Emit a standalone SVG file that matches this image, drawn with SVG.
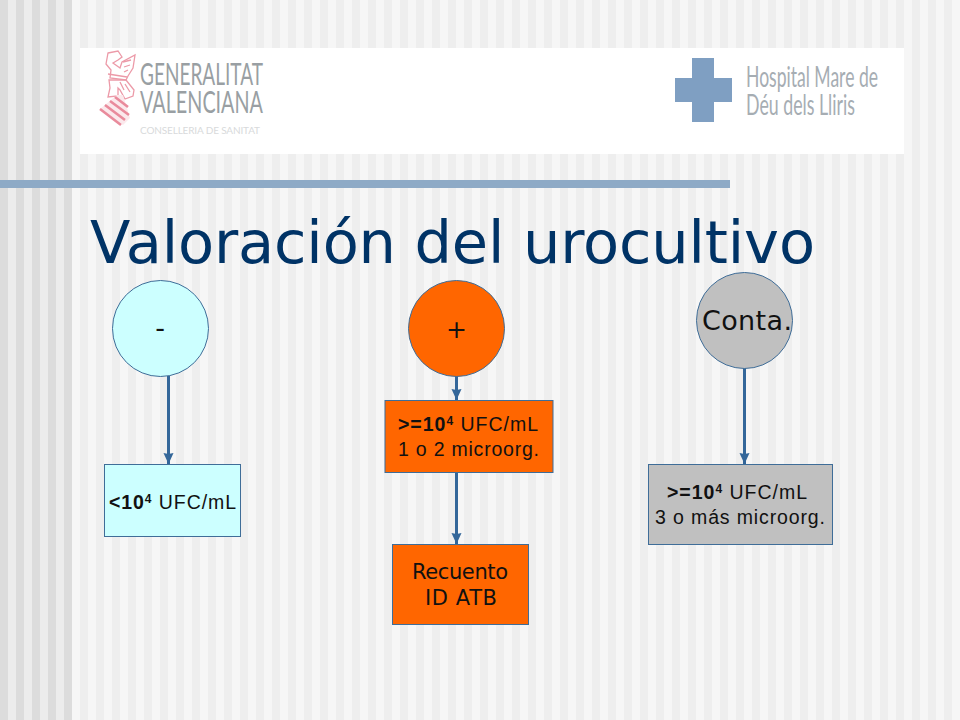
<svg xmlns="http://www.w3.org/2000/svg" width="960" height="720" viewBox="0 0 960 720">
<defs>
<pattern id="stripeL" width="16" height="16" patternUnits="userSpaceOnUse"><rect width="16" height="16" fill="#ececec"/><rect width="8" height="16" fill="#dcdcdc"/></pattern>
<pattern id="stripeR" x="72" width="16" height="16" patternUnits="userSpaceOnUse"><rect width="16" height="16" fill="#eeeeee"/><rect width="8" height="16" fill="#f6f6f6"/></pattern>
<marker id="arrow" markerUnits="userSpaceOnUse" markerWidth="13" markerHeight="12" refX="11" refY="5.500" orient="auto"><path d="M0 0.500L11 5.500L0 10.500L1 5.500Z" fill="#336699"/></marker>
</defs>
<style>
.node{stroke:#3f6d98;stroke-width:1}
.sans{font-family:"Liberation Sans",Arial,sans-serif;font-size:19.500px;fill:#111111}
.dj{font-family:"DejaVu Sans",Verdana,sans-serif;fill:#111111}
.conn{stroke:#336699;stroke-width:3;fill:none;marker-end:url(#arrow)}
.mid{text-anchor:middle}
.logo{font-family:"Lato","Liberation Sans Narrow",sans-serif;font-weight:400}
.crest{fill:none;stroke:#ec9aa8;stroke-width:1.300}
</style>
<rect width="960" height="720" fill="url(#stripeR)"/>
<rect width="72" height="720" fill="url(#stripeL)"/>
<rect x="80" y="48" width="824" height="106" fill="#ffffff"/>
<rect x="0" y="180" width="730" height="8" fill="#8eaac6"/>
<g id="logo-generalitat">
<path class="crest" d="M108 53L118 51L122 57L118 60L113 63L120 68L122 62L135 55L133 68L128 76L126 80L110 78L111 70L106 64Z"/>
<path class="crest" d="M123 62L131 60M124 67L130 65M124 72L128 70M108 74L127 77"/>
<path class="crest" d="M109 80H126L134 90L133 96L125 99L120 90L118 88L118 96L108 97L110 88ZM120 82L124 90M125 84L130 92"/>
<path d="M100 109L117 95H123L130 118L123 125Z" fill="#fbe9ec"/>
<path d="M100 109L121 125M105 105L125 120M110 101L129 115M115 97L128 107" stroke="#e98b9c" stroke-width="2.600" fill="none"/>
<text class="logo" x="140" y="85" font-size="31" fill="#999fa3" textLength="123" lengthAdjust="spacingAndGlyphs">GENERALITAT</text>
<text class="logo" x="140" y="113" font-size="31" fill="#999fa3" textLength="123" lengthAdjust="spacingAndGlyphs">VALENCIANA</text>
<text class="logo" x="140" y="134" font-size="10" font-weight="700" fill="#d8dadb" textLength="120" lengthAdjust="spacing">CONSELLERIA DE SANITAT</text>
</g>
<g id="logo-hospital">
<path d="M692 58H714V78H732V102H714V122H692V102H675V78H692Z" fill="#7f9fc2"/>
<text class="logo" x="746" y="87" font-size="28" fill="#a6adb3" textLength="132" lengthAdjust="spacingAndGlyphs">Hospital Mare de</text>
<text class="logo" x="746" y="115" font-size="28" fill="#a6adb3" textLength="109" lengthAdjust="spacingAndGlyphs">Déu dels Lliris</text>
</g>
<text id="title" x="90" y="263" font-family="'DejaVu Sans',Verdana,sans-serif" font-size="59" fill="#003366" textLength="725" lengthAdjust="spacing">Valoración del urocultivo</text>
<g id="connectors">
<line class="conn" x1="168.500" y1="376" x2="168.500" y2="464"/>
<line class="conn" x1="456.500" y1="376" x2="456.500" y2="400"/>
<line class="conn" x1="456.500" y1="472" x2="456.500" y2="544"/>
<line class="conn" x1="744.500" y1="368" x2="744.500" y2="464"/>
</g>
<g id="node-neg"><circle class="node" cx="160.500" cy="328.500" r="48" fill="#ccffff"/><text class="dj mid" x="160" y="337" font-size="27">-</text></g>
<g id="node-pos"><circle class="node" cx="456.500" cy="328.500" r="48" fill="#ff6600"/><text class="dj mid" x="456.500" y="338" font-size="25">+</text></g>
<g id="node-conta"><circle class="node" cx="744.500" cy="320.500" r="48" fill="#c0c0c0"/><text class="dj" x="702" y="330" font-size="27" textLength="90" lengthAdjust="spacing">Conta.</text></g>
<g id="box-neg"><rect class="node" x="104.500" y="464.500" width="136" height="72" fill="#ccffff"/><text class="sans" x="109" y="509" textLength="127" lengthAdjust="spacing"><tspan font-weight="bold">&lt;10</tspan><tspan font-weight="bold" font-size="12" dy="-6">4</tspan><tspan dy="6"> UFC/mL</tspan></text></g>
<g id="box-pos"><rect class="node" x="385" y="400.500" width="168" height="72" fill="#ff6600"/><text class="sans" x="398" y="431" textLength="140" lengthAdjust="spacing"><tspan font-weight="bold">&gt;=10</tspan><tspan font-weight="bold" font-size="12" dy="-6">4</tspan><tspan dy="6"> UFC/mL</tspan></text><text class="sans" x="398" y="456" textLength="141" lengthAdjust="spacing">1 o 2 microorg.</text></g>
<g id="box-recuento"><rect class="node" x="392.500" y="544.500" width="136" height="80" fill="#ff6600"/><text class="dj" x="412" y="579" font-size="21" textLength="96" lengthAdjust="spacing">Recuento</text><text class="dj" x="425" y="605" font-size="21" textLength="72" lengthAdjust="spacing">ID ATB</text></g>
<g id="box-conta"><rect class="node" x="648.500" y="464.500" width="184" height="80" fill="#c0c0c0"/><text class="sans" x="667" y="499" textLength="140" lengthAdjust="spacing"><tspan font-weight="bold">&gt;=10</tspan><tspan font-weight="bold" font-size="12" dy="-6">4</tspan><tspan dy="6"> UFC/mL</tspan></text><text class="sans" x="655" y="524" textLength="170" lengthAdjust="spacing">3 o más microorg.</text></g>
</svg>
